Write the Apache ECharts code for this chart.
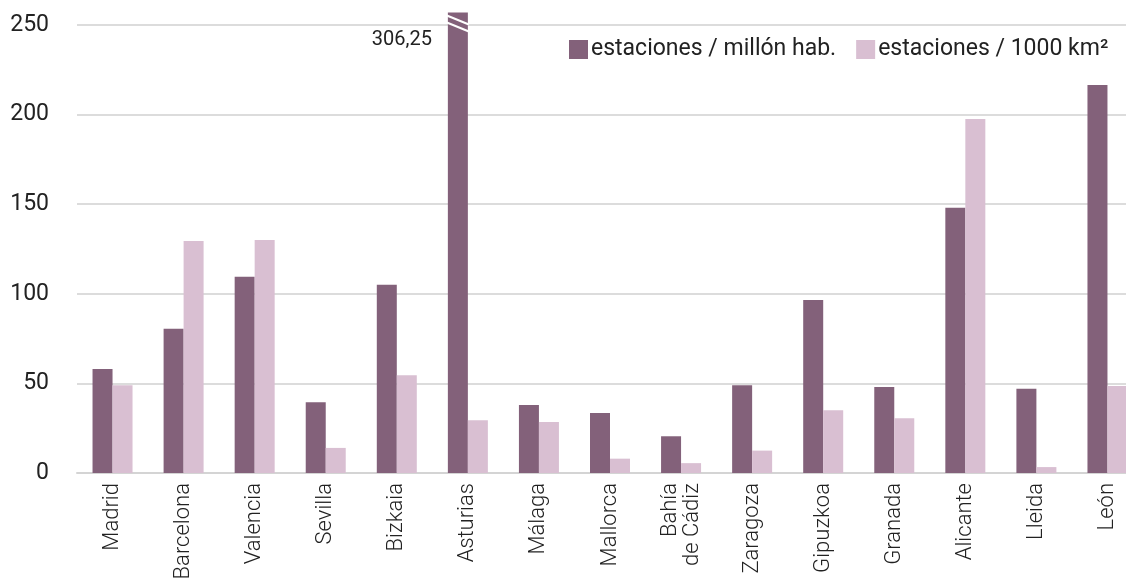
<!doctype html>
<html>

	<head>
		<meta charset="UTF-8">
		<title>estaciones</title>
		<script src="https://cdn.jsdelivr.net/npm/echarts@6/dist/echarts.min.js"></script>
		<style>
			html, body {
				margin: 0;
				padding: 0;
				background: #ffffff;
			}
			
			#chart {
				width: 1126px;
				height: 588px;
			}
		</style>
	</head>

	<body>
		<div id="chart"></div>

		<script type="text/javascript">
			// ciudades
			var categories = ['Madrid', 'Barcelona', 'Valencia', 'Sevilla', 'Bizkaia', 'Asturias', 'Málaga', 'Mallorca', 'Bahía\nde Cádiz', 'Zaragoza', 'Gipuzkoa', 'Granada', 'Alicante', 'Lleida', 'León'];
			// estaciones / millón hab.
			var porMillon = [58, 80.5, 109.5, 39.5, 105, 306.25, 38, 33.5, 20.5, 49, 96.5, 48, 148, 47, 216.5];
			// estaciones / 1000 km2
			var porKm2 = [49, 129.5, 130, 14, 54.5, 29.5, 28.5, 8, 5.5, 12.5, 35, 30.5, 197.5, 3.3, 48.5];
			var yTicks = [0, 50, 100, 150, 200, 250];

			var yMax = 250;
			// tope visible de la barra cortada
			var cutTop = 257;

			var colorDark = '#83617a';
			var colorLight = '#d9bfd2';

			var darkData = [];
			for(var i = 0; i < porMillon.length; i++) {
				if(porMillon[i] > yMax) {
					darkData.push({
						value: cutTop,
						realValue: porMillon[i]
					});
				} else {
					darkData.push(porMillon[i]);
				}
			}

			var chart = echarts.init(document.getElementById('chart'));

			var option = {
				animation: false,
				grid: {
					left: 77,
					width: 1066,
					top: 25,
					bottom: 115,
					outerBoundsMode: 'none',
					containLabel: false
				},
				legend: {
					left: 564,
					top: 33,
					itemWidth: 19,
					itemHeight: 19,
					itemGap: 20,
					icon: 'rect',
					textStyle: {
						fontFamily: 'Roboto',
						fontSize: 23,
						color: '#222222',
						padding: [0, 0, 0, -2]
					},
					data: ['estaciones / millón hab.', 'estaciones / 1000 km²']
				},
				xAxis: {
					type: 'category',
					data: categories,
					axisLine: {
						lineStyle: {
							color: '#d4d4d4',
							width: 2
						}
					},
					axisTick: {
						show: false
					},
					axisLabel: {
						rotate: 90,
						interval: 0,
						margin: 10,
						fontFamily: 'Roboto',
						fontWeight: 300,
						fontSize: 22,
						lineHeight: 22,
						color: '#222222'
					}
				},
				yAxis: {
					type: 'value',
					min: yTicks[0],
					max: yTicks[yTicks.length - 1],
					interval: 50,
					axisLine: {
						show: false
					},
					axisTick: {
						show: false
					},
					axisLabel: {
						margin: 28,
						fontFamily: 'Roboto',
						fontSize: 23,
						color: '#222222'
					},
					splitLine: {
						lineStyle: {
							color: '#dcdcdc',
							width: 2
						}
					}
				},
				series: [{
						name: 'estaciones / millón hab.',
						type: 'bar',
						data: darkData,
						barWidth: 20,
						barGap: '0%',
						clip: false,
						itemStyle: {
							color: colorDark
						}
					},
					{
						name: 'estaciones / 1000 km²',
						type: 'bar',
						data: porKm2,
						barWidth: 20,
						barGap: '0%',
						itemStyle: {
							color: colorLight
						}
					}
				]
			};

			chart.setOption(option);

			// marcas de corte y etiqueta de la barra que se sale de escala
			var graphics = [];
			for(var j = 0; j < darkData.length; j++) {
				if(typeof(darkData[j]) != 'object')
					continue;
				var layout = chart.getModel().getSeriesByIndex(0).getData().getItemLayout(j);
				var x0 = layout.x;
				var x1 = layout.x + layout.width;
				var topY = layout.y + layout.height;
				graphics.push({
					type: 'line',
					shape: { x1: x0 - 1, y1: topY + 3, x2: x1 + 1, y2: topY + 12 },
					style: { stroke: '#ffffff', lineWidth: 2 },
					z: 10
				});
				graphics.push({
					type: 'line',
					shape: { x1: x0 - 1, y1: topY + 10, x2: x1 + 1, y2: topY + 19 },
					style: { stroke: '#ffffff', lineWidth: 2 },
					z: 10
				});
				graphics.push({
					type: 'text',
					x: x0 - 16,
					y: topY + 28,
					style: {
						text: String(darkData[j].realValue).replace('.', ','),
						fill: '#222222',
						font: '20px Roboto',
						align: 'right',
						verticalAlign: 'middle'
					},
					z: 10
				});
			}
			chart.setOption({ graphic: graphics });
		</script>
	</body>

</html>
